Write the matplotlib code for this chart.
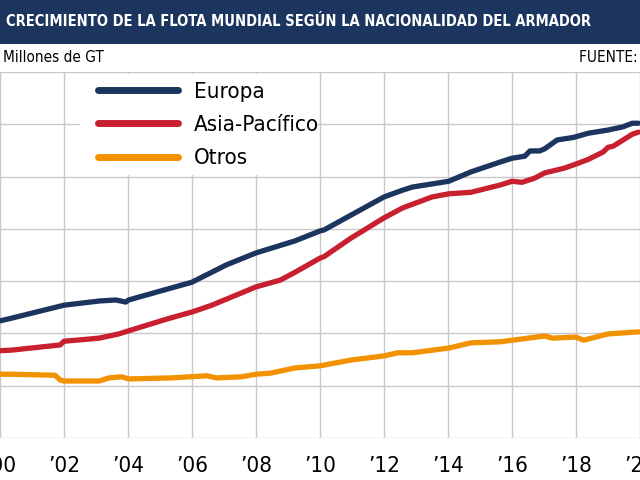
import matplotlib
matplotlib.use('Agg')
import matplotlib.pyplot as plt
from matplotlib.patches import Rectangle

plt.rcParams['font.family'] = ['DejaVu Sans']
plt.rcParams['font.stretch'] = 'condensed'

# datos (millones de GT)
years_europa = [2000.0, 2000.35, 2002.0, 2003.1, 2003.62, 2003.93, 2004.02, 2005.24, 2006.0,
                2007.07, 2008.0, 2009.22, 2010.0, 2010.13, 2010.96, 2012.0, 2012.58, 2012.89,
                2014.02, 2014.72, 2015.64, 2016.0, 2016.4, 2016.56, 2016.86, 2017.02, 2017.41,
                2017.93, 2018.39, 2019.0, 2019.46, 2019.76, 2019.95]
europa = [224, 229, 254, 262, 264, 260, 264, 285, 298,
          331, 354, 377, 396, 398, 426, 461, 474, 480,
          491, 509, 528, 535, 539, 549, 549, 553, 570,
          575, 583, 589, 595, 602, 602]

years_asia = [2000.0, 2000.35, 2001.88, 2002.0, 2003.1, 2003.71, 2004.02, 2005.24, 2006.0,
              2006.62, 2008.0, 2008.76, 2009.22, 2010.0, 2010.13, 2010.96, 2012.0, 2012.58,
              2013.5, 2014.02, 2014.72, 2015.64, 2016.0, 2016.31, 2016.71, 2017.02, 2017.63,
              2018.0, 2018.39, 2018.85, 2019.0, 2019.16, 2019.76, 2019.95]
asia = [167, 168, 178, 185, 191, 199, 205, 228, 241,
        254, 289, 302, 317, 344, 347, 382, 421, 440,
        461, 467, 470, 484, 491, 489, 497, 507, 516,
        524, 533, 547, 556, 558, 581, 585]

years_otros = [2000.0, 2000.35, 2001.72, 2001.88, 2002.0, 2003.1, 2003.41, 2003.8, 2004.02,
               2005.39, 2006.46, 2006.77, 2007.54, 2008.0, 2008.45, 2009.22, 2010.0, 2010.96,
               2012.0, 2012.43, 2012.89, 2014.02, 2014.72, 2015.64, 2016.0, 2017.02, 2017.26,
               2018.0, 2018.24, 2019.0, 2019.95]
otros = [122, 122, 120, 111, 109, 109, 115, 117, 113,
         115, 119, 115, 117, 122, 124, 134, 138, 149,
         157, 163, 163, 172, 182, 184, 187, 195, 191,
         193, 187, 199, 203]

xticks = list(range(2000, 2021, 2))
xlabels = ['\u2019%02d' % (y % 100) for y in xticks]

navy = '#1c355e'
red = '#c8202f'
orange = '#f39200'

fig = plt.figure(figsize=(6.4, 4.8), dpi=100)
ax = fig.add_axes([0, 42 / 480, 1, 366 / 480])

ax.plot(years_europa, europa, color=navy, lw=3.8, label='Europa', solid_capstyle='round')
ax.plot(years_asia, asia, color=red, lw=3.8, label='Asia-Pacífico', solid_capstyle='round')
ax.plot(years_otros, otros, color=orange, lw=3.8, label='Otros', solid_capstyle='round')

ax.set_xlim(2000.35, 2019.92)
ax.set_ylim(0, 700)
ax.set_xticks(xticks)
ax.set_xticklabels(xlabels, fontsize=16)
ax.set_yticks(range(0, 701, 100))
ax.set_yticklabels([])
ax.tick_params(length=0, pad=13)
ax.grid(True, color='#c8c8c8', lw=1)
ax.set_axisbelow(True)
for s in ax.spines.values():
    s.set_visible(False)

# fondo blanco de la leyenda
ax.add_patch(Rectangle((80 / 640, 1 - 103 / 366), 236 / 640, 101 / 366,
                       transform=ax.transAxes, facecolor='white', edgecolor='none', zorder=1.5))
leg = ax.legend(loc='upper left', bbox_to_anchor=(82 / 640, 1.016), frameon=False,
                fontsize=16, handlelength=3.6, handletextpad=0.75, labelspacing=0.6,
                borderpad=0.2)
for h in leg.get_lines():
    h.set_linewidth(5)
    h.set_solid_capstyle('round')

# banda del titulo
fig.patches.append(Rectangle((0, 1 - 44 / 480), 1, 44 / 480, transform=fig.transFigure,
                             facecolor=navy, edgecolor='none'))
fig.text(6 / 640, 1 - 22 / 480, 'CRECIMIENTO DE LA FLOTA MUNDIAL SEGÚN LA NACIONALIDAD DEL ARMADOR',
         color='white', fontsize=10.5, fontweight='bold', ha='left', va='center')
fig.text(3 / 640, 1 - 58 / 480, 'Millones de GT', fontsize=11, ha='left', va='center')
fig.text(579 / 640, 1 - 58 / 480, 'FUENTE: Clarksons', fontsize=11, ha='left', va='center')

plt.savefig('out.png', dpi=100)
